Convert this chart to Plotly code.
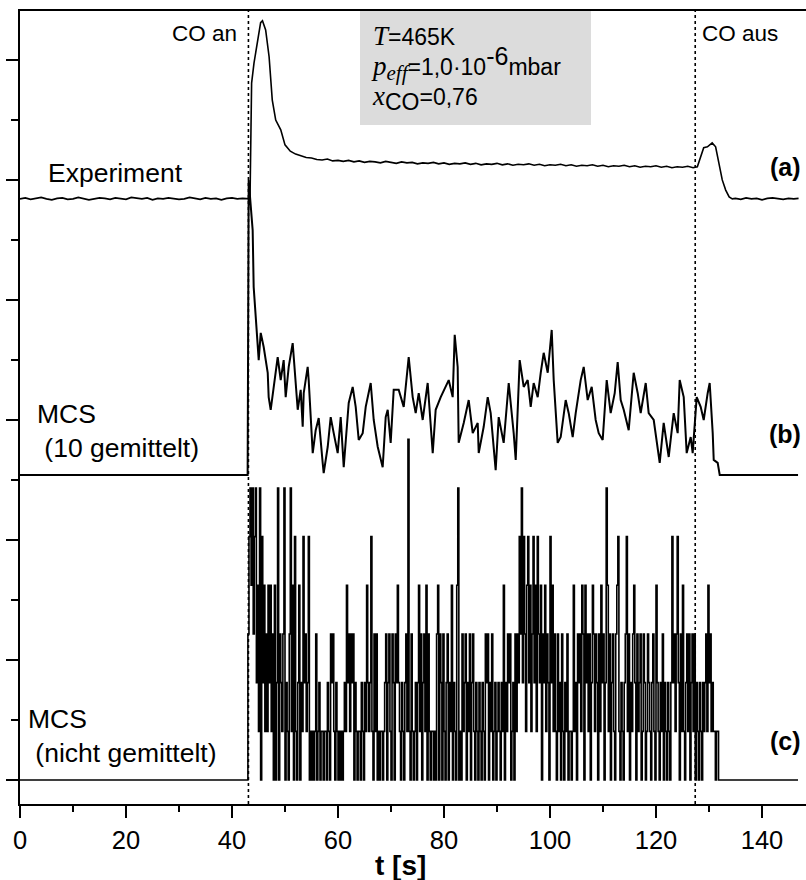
import plotly.graph_objects as go

# ---------------- data ----------------
# switching times of the CO beam [s]
t_co_on = 43.1
t_co_off = 127.4

# (a) experiment: CO2 signal (arb. units, relative to its baseline)
exp_pre_t = list(range(0, 43))
exp_pre_v = [0.00, 0.02, -0.01, 0.01, 0.03, 0.00, -0.02, 0.01, 0.02, -0.01,
             0.00, 0.03, 0.01, -0.02, 0.00, 0.02, 0.01, -0.01, 0.02, 0.00,
             -0.01, 0.03, 0.01, 0.00, 0.02, -0.02, 0.01, 0.00, 0.02, 0.01,
             -0.01, 0.00, 0.03, 0.01, -0.01, 0.02, 0.00, 0.01, -0.02, 0.01,
             0.02, 0.00, 0.01]
exp_peak_t = [43.4, 43.7, 44.15, 44.8, 45.4, 45.75, 46.35, 47.0, 47.6, 48.25, 49.2]
exp_peak_v = [0.00, 2.38, 2.79, 3.20, 3.62, 3.66, 3.47, 2.92, 2.03, 1.62, 1.42]
exp_plateau_t = list(range(50, 128))
exp_plateau_v = [1.11, 0.98, 0.92, 0.88, 0.85, 0.84, 0.81, 0.80, 0.82, 0.78,
                 0.79, 0.77, 0.79, 0.76, 0.78, 0.75, 0.77, 0.76, 0.74, 0.77,
                 0.75, 0.73, 0.76, 0.74, 0.75, 0.72, 0.74, 0.73, 0.75, 0.72,
                 0.74, 0.71, 0.73, 0.72, 0.74, 0.71, 0.73, 0.70, 0.72, 0.71,
                 0.73, 0.70, 0.72, 0.69, 0.71, 0.70, 0.72, 0.69, 0.71, 0.68,
                 0.70, 0.69, 0.71, 0.68, 0.70, 0.67, 0.69, 0.68, 0.70, 0.67,
                 0.69, 0.66, 0.68, 0.67, 0.69, 0.66, 0.68, 0.65, 0.67, 0.66,
                 0.68, 0.65, 0.67, 0.64, 0.66, 0.65, 0.67, 0.64]
exp_off_t = [127.8, 128.4, 129.0, 129.7, 130.2, 130.6, 131.25, 131.8, 132.5, 133.15, 133.8, 134.4]
exp_off_v = [0.66, 0.86, 1.05, 1.07, 1.12, 1.15, 1.07, 0.74, 0.39, 0.18, 0.04, 0.00]
exp_post_t = [135, 136, 137, 138, 139, 140, 141, 142, 143, 144, 145, 146, 146.9]
exp_post_v = [0.01, -0.01, 0.02, 0.00, 0.01, -0.02, 0.01, 0.02, 0.00, -0.01, 0.01, 0.00, 0.01]

# (b) MCS, average of 10 runs (mean count per time step)
mcs10_t = [0.0, 42.95, 43.15, 43.90, 44.09, 44.85, 45.04, 45.42, 45.98, 46.74,
           46.92, 47.30, 47.87, 48.62, 49.19, 49.75, 50.13, 50.70, 51.45, 52.02,
           52.40, 52.96, 53.34, 53.53, 54.28, 54.47, 55.23, 55.79, 56.36, 57.11,
           57.30, 58.06, 58.62, 59.19, 59.94, 60.51, 61.08, 62.02, 62.77, 63.34,
           63.91, 64.66, 65.23, 66.17, 66.74, 67.49, 68.43, 69.00, 69.38, 69.94,
           70.51, 71.45, 72.40, 73.34, 74.09, 74.66, 75.23, 75.98, 76.92, 77.87,
           78.43, 79.38, 80.32, 80.89, 81.64, 82.02, 82.58, 82.77, 83.72, 84.66,
           85.42, 86.36, 86.55, 87.49, 88.25, 88.81, 89.75, 90.32, 91.26, 92.21,
           93.15, 93.53, 94.28, 95.04, 95.79, 96.36, 96.92, 97.68, 98.25, 98.81,
           99.57, 100.32, 100.70, 101.45, 102.02, 102.96, 103.53, 104.28, 104.85, 105.79,
           106.36, 107.11, 107.87, 108.62, 109.19, 109.94, 110.70, 111.45, 112.21, 112.77,
           113.34, 113.91, 114.85, 115.79, 116.55, 117.11, 118.06, 118.62, 119.57, 120.70,
           121.45, 122.40, 123.34, 124.09, 124.47, 125.23, 125.79, 126.55, 126.92, 127.68,
           128.43, 129.00, 129.75, 130.13, 130.70, 130.89, 131.64, 132.02, 146.8]
mcs10_v = [0, 0, 6.06, 5.03, 3.86, 2.77, 2.36, 2.92, 2.63, 2.10,
           1.60, 1.34, 1.81, 2.42, 1.95, 2.36, 1.60, 2.22, 2.71, 1.95,
           1.34, 1.75, 0.99, 1.68, 2.22, 1.95, 0.45, 0.92, 1.17, 0.25,
           0.04, 0.58, 1.19, 0.86, 0.45, 1.19, 0.16, 1.48, 1.81, 1.40,
           0.72, 0.86, 1.40, 1.89, 1.13, 0.58, 0.16, 1.19, 1.34, 0.66,
           1.75, 1.75, 1.40, 2.42, 1.60, 1.27, 1.68, 1.13, 1.89, 0.45,
           1.34, 1.60, 1.81, 1.95, 1.60, 2.88, 2.22, 0.66, 1.07, 1.54,
           0.86, 1.07, 0.45, 0.99, 1.60, 1.27, 0.10, 1.19, 0.66, 1.89,
           0.86, 0.31, 2.36, 1.81, 1.95, 1.40, 1.89, 1.60, 2.10, 2.51,
           2.10, 2.98, 1.95, 0.66, 0.78, 1.54, 1.27, 0.78, 1.27, 1.95,
           2.22, 1.54, 1.81, 1.13, 0.86, 0.72, 1.95, 1.27, 1.68, 2.32,
           1.54, 1.34, 0.92, 2.10, 1.68, 1.27, 1.89, 1.27, 1.13, 0.25,
           1.07, 0.37, 1.27, 0.86, 1.95, 1.60, 0.45, 0.78, 0.45, 1.60,
           1.40, 1.13, 1.68, 1.89, 0.86, 0.31, 0.25, 0, 0]

# (c) single MCS run: integer count per time step, one digit per step
mcs_raw_t0 = 43.0
mcs_raw_dt = 0.2
mcs_raw_end = 146.8
mcs_raw_counts = (
    "3564635624" "1605241314" "2413040260" "3213602103" "6140510240"
    "2152312501" "0101301201" "1011021032" "3102101010" "1214231323"
    "0210110210" "2142125103" "1301011012" "3023103203" "2421021023"
    "1710310120" "2413023140" "3101101034" "0320310230" "2140210460"
    "1031230213" "0231021021" "0210323021" "3012012102" "1402132301"
    "2031325362" "5314524135" "2415324032" "4132052413" "1031203102"
    "1301101412" "0323143042" "3130243132" "0314230264" "1302310345"
    "1021023513" "0213420312" "3013201321" "0231042102" "1302102102"
    "5231352031" "4102313023" "1302102102" "1231423121" "10110"
)

# ---------------- geometry of the stacked panels ----------------
PX_PER_UNIT = 48.67            # one count in (b)/(c) on screen
TICK_STEP = 60 / PX_PER_UNIT   # minor tick spacing of the blank y axis
OFFSET_A = 11.94
OFFSET_B = 6.267
OFFSET_C = 0.0

FIG_W, FIG_H = 806, 880
M_L, M_R, M_T, M_B = 20, 0, 11, 76
PLOT_W = FIG_W - M_L - M_R
PLOT_H = FIG_H - M_T - M_B


def xp(px):
    return (px - M_L) / PLOT_W


def yp(py):
    return (FIG_H - M_B - py) / PLOT_H


exp_t = exp_pre_t + exp_peak_t + exp_plateau_t + exp_off_t + exp_post_t
exp_v = exp_pre_v + exp_peak_v + exp_plateau_v + exp_off_v + exp_post_v
assert len(exp_t) == len(exp_v)
assert len(mcs10_t) == len(mcs10_v)

raw_counts = [int(c) for c in mcs_raw_counts]
raw_t = [0.0, mcs_raw_t0 - mcs_raw_dt] + [mcs_raw_t0 + i * mcs_raw_dt for i in range(len(raw_counts))]
raw_v = [0, 0] + raw_counts
raw_t += [raw_t[-1] + mcs_raw_dt, mcs_raw_end]
raw_v += [0, 0]

fig = go.Figure()
fig.add_trace(go.Scatter(x=raw_t, y=[v + OFFSET_C for v in raw_v], mode="lines",
                         line=dict(color="black", width=1.6, shape="hv"), hoverinfo="skip"))
fig.add_trace(go.Scatter(x=mcs10_t, y=[v + OFFSET_B for v in mcs10_v], mode="lines",
                         line=dict(color="black", width=2), hoverinfo="skip"))
fig.add_trace(go.Scatter(x=exp_t, y=[v + OFFSET_A for v in exp_v], mode="lines",
                         line=dict(color="black", width=1.6), hoverinfo="skip"))

# dotted markers for CO on / off
for tc in (t_co_on, t_co_off):
    fig.add_shape(type="line", xref="x", yref="paper", x0=tc, x1=tc, y0=0, y1=1,
                  line=dict(color="black", width=1.6, dash="dot"))

# grey parameter box
fig.add_shape(type="rect", xref="paper", yref="paper",
              x0=xp(360), x1=xp(591), y0=yp(125), y1=1,
              fillcolor="#dcdcdc", line=dict(width=0), layer="below")

SANS = "Liberation Sans, Arial, sans-serif"
SERIF = "Liberation Serif"


def sym(s):
    return f'<span style="font-family:{SERIF};font-size:27px"><i>{s}</i></span>'


box_text = (
    f'{sym("T")}=465K<br>'
    f'{sym("p")}<sub><span style="font-family:{SERIF};font-size:21px"><i>eff</i></span></sub>'
    f'=1,0·10<sup><span style="font-size:25px">-6</span></sup>mbar<br>'
    f'{sym("x")}<sub><span style="font-size:23px">CO</span></sub>=0,76'
)

annotations = [
    dict(text="CO an", x=xp(239), y=yp(33), xanchor="right", yanchor="middle", font=dict(size=22.5)),
    dict(text="CO aus", x=xp(700), y=yp(33), xanchor="left", yanchor="middle", font=dict(size=22.5)),
    dict(text="Experiment", x=xp(46), y=yp(173), xanchor="left", yanchor="middle", font=dict(size=26.5)),
    dict(text="MCS<br>\u00a0(10 gemittelt)", x=xp(35), y=yp(431), xanchor="left",
         yanchor="middle", align="left", font=dict(size=26.5)),
    dict(text="MCS<br>\u00a0(nicht gemittelt)", x=xp(26), y=yp(736), xanchor="left",
         yanchor="middle", align="left", font=dict(size=26.5)),
    dict(text="<b>(a)</b>", x=xp(803), y=yp(167), xanchor="right", yanchor="middle", font=dict(size=25)),
    dict(text="<b>(b)</b>", x=xp(803), y=yp(434), xanchor="right", yanchor="middle", font=dict(size=25)),
    dict(text="<b>(c)</b>", x=xp(803), y=yp(741), xanchor="right", yanchor="middle", font=dict(size=25)),
    dict(text=box_text, x=xp(369), y=yp(68), xanchor="left", yanchor="middle", align="left",
         font=dict(size=23)),
    dict(text="<b>t [s]</b>", x=xp(400), y=yp(865), xanchor="center", yanchor="middle",
         font=dict(size=28)),
]
for a in annotations:
    a.update(xref="paper", yref="paper", showarrow=False)
    a["font"] = dict(family=SANS, color="black", **a["font"])

x_max = (FIG_W - M_L) / 5.3
y_min = -(FIG_H - M_B - 780) / PX_PER_UNIT
y_max = (780 - M_T) / PX_PER_UNIT

fig.update_layout(
    width=FIG_W, height=FIG_H,
    margin=dict(l=M_L, r=M_R, t=M_T, b=M_B, pad=0, autoexpand=False),
    paper_bgcolor="white", plot_bgcolor="white",
    showlegend=False,
    font=dict(family=SANS, color="black"),
    annotations=annotations,
    xaxis=dict(
        range=[0, x_max], tickmode="linear", tick0=0, dtick=20,
        ticks="outside", ticklen=12, tickwidth=2, tickcolor="black",
        minor=dict(tick0=0, dtick=10, ticks="outside", ticklen=6, tickwidth=2, tickcolor="black"),
        showline=True, linewidth=2, linecolor="black", mirror=True,
        showgrid=False, zeroline=False,
        tickfont=dict(family=SANS, size=25.5, color="black"),
    ),
    yaxis=dict(
        range=[y_min, y_max], tickmode="linear", tick0=0, dtick=2 * TICK_STEP,
        ticks="outside", ticklen=12, tickwidth=2, tickcolor="black",
        minor=dict(tick0=0, dtick=TICK_STEP, ticks="outside", ticklen=7, tickwidth=2, tickcolor="black"),
        showticklabels=False,
        showline=True, linewidth=2, linecolor="black",
        showgrid=False, zeroline=False,
    ),
)

fig.write_html("out.html")
